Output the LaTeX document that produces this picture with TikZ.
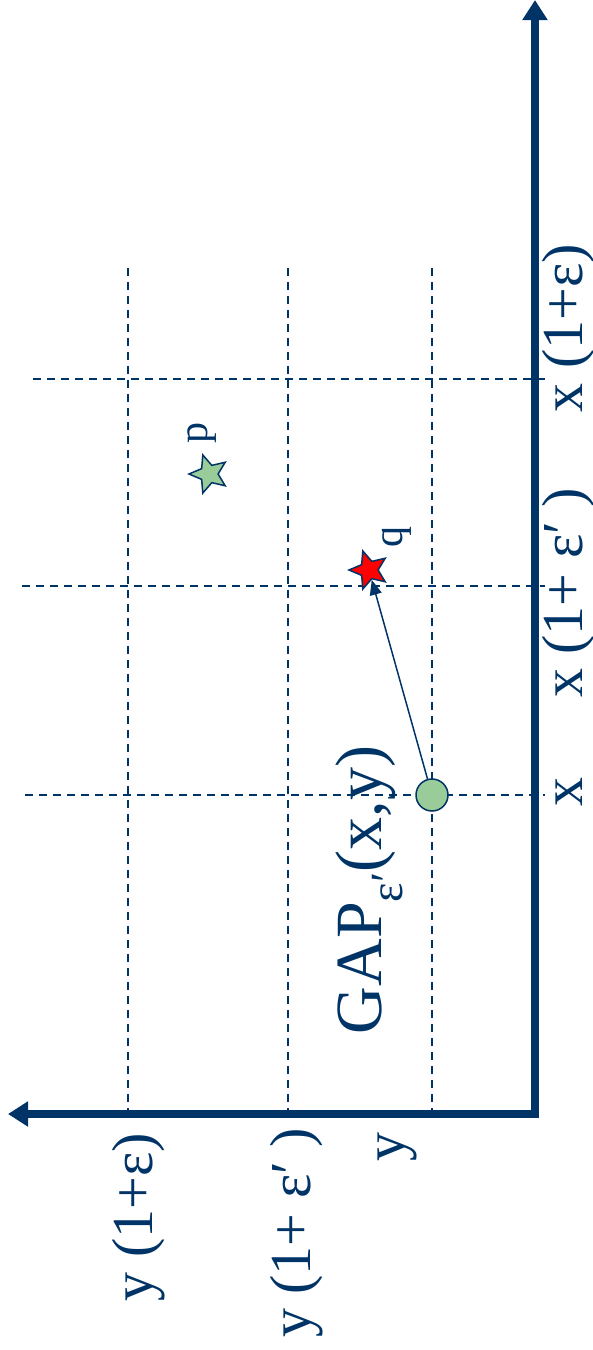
\documentclass[tikz,border=0pt]{standalone}
\usepackage{fontspec}
\setmainfont{Liberation Serif}
\usepackage{tikz}
\usetikzlibrary{arrows.meta,shapes.geometric}
\definecolor{gapBlue}{RGB}{0,51,102}
\definecolor{gapGreen}{RGB}{153,204,153}

\begin{document}
\begin{tikzpicture}[x=1pt,y=-1pt,
  axis/.style={gapBlue, line width=8pt, line cap=rect, -{Triangle[length=20pt,width=24pt]}},
  grid line/.style={gapBlue, line width=2pt, dash pattern=on 8pt off 6pt},
  lbl/.style={text=gapBlue, rotate=90, anchor=base, inner sep=0pt, font=\fontsize{58}{58}\selectfont},
  small lbl/.style={lbl, font=\fontsize{42}{42}\selectfont},
  pt star/.style={star, star points=5, star point ratio=2.2, draw=gapBlue, line width=1.5pt,
    minimum size=40pt, inner sep=0pt, rotate=90}]
\useasboundingbox (0,0) rectangle (592,1350);
% axes
\coordinate (o) at (535,1114);
\coordinate (xend) at (535,0);
\coordinate (yend) at (8,1114);
\draw[axis] (o) -- (xend);
\draw[axis] (o) -- (yend);
% grid
\foreach \py/\px in {379/33, 586/22, 795/25}
  \draw[grid line] (\px,\py) -- (545,\py);
\foreach \px in {128,288,432}
  \draw[grid line] (\px,268) -- (\px,1110);
% points
\node[circle, fill=gapGreen, draw=gapBlue, line width=1.5pt, minimum size=32pt, inner sep=0pt] (start) at (432,795) {};
\node[pt star, fill=red] (q) at (369,570) {};
\node[pt star, fill=gapGreen] (p) at (209,474) {};
\draw[gapBlue, line width=1.5pt, -{Triangle[length=15pt,width=12pt]}] (start) -- (q);
% labels
\node[lbl] (xlab) at (582,792) {x};
\node[lbl] (x1lab) at (582,593) {x (1+ ε′ )};
\node[lbl] (x2lab) at (582,328) {x (1+ε)};
\node[lbl] (ylab) at (404,1147) {y};
\node[lbl] (y1lab) at (310,1233) {y (1+ ε′ )};
\node[lbl] (y2lab) at (152,1217) {y (1+ε)};
\node[lbl, font=\fontsize{66}{66}\selectfont] (gaplab) at (381,890) {GAP\textsubscript{ε′}(x,y)};
\node[small lbl] (plab) at (207,433) {p};
\node[small lbl] (qlab) at (402,537) {q};
\end{tikzpicture}
\end{document}
